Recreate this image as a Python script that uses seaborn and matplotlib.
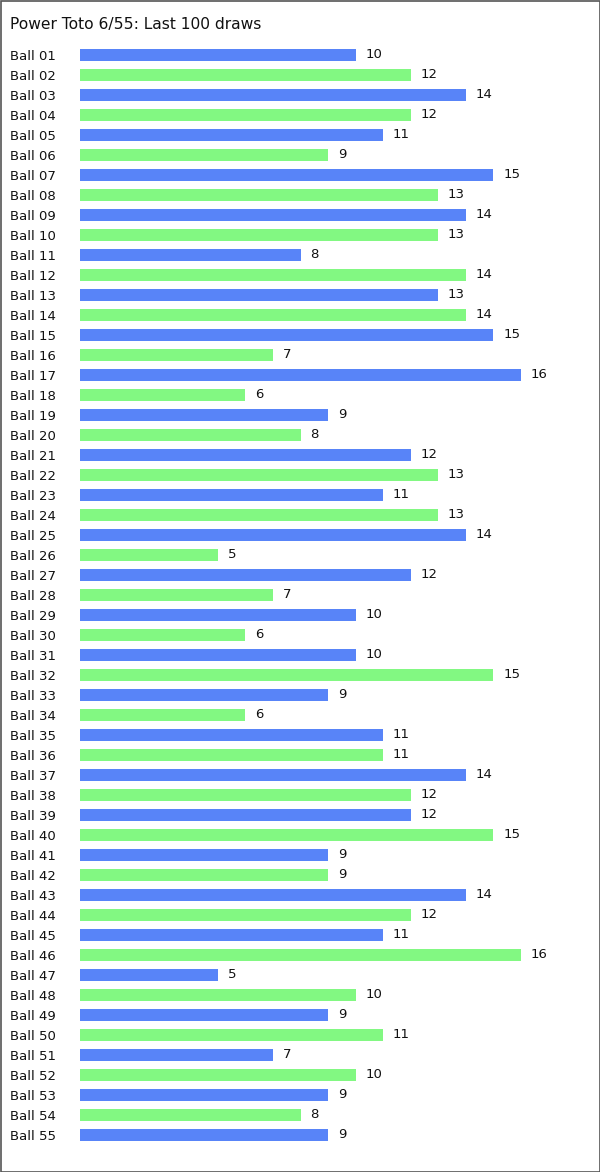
import matplotlib
matplotlib.use("Agg")
import matplotlib.pyplot as plt
import seaborn as sns
import pandas as pd
from matplotlib.patches import Rectangle

balls = [f"Ball {i:02d}" for i in range(1, 56)]
counts = [10, 12, 14, 12, 11, 9, 15, 13, 14, 13, 8, 14, 13, 14, 15, 7, 16, 6, 9, 8,
          12, 13, 11, 13, 14, 5, 12, 7, 10, 6, 10, 15, 9, 6, 11, 11, 14, 12, 12, 15,
          9, 9, 14, 12, 11, 16, 5, 10, 9, 11, 7, 10, 9, 8, 9]
groups = ["odd" if i % 2 == 1 else "even" for i in range(1, 56)]
palette = {"odd": "#5884f8", "even": "#82f882"}

df = pd.DataFrame({"ball": balls, "count": counts, "group": groups})

sns.set_theme(style="white")
plt.rcParams['font.family'] = ['DejaVu Sans']

W, H = 600, 1172
fig = plt.figure(figsize=(W / 100, H / 100), dpi=100)
ax_left, ax_right = 80, 580
ax_top, ax_bottom = 45, 1145
ax = fig.add_axes([ax_left / W, 1 - ax_bottom / H, (ax_right - ax_left) / W, (ax_bottom - ax_top) / H])

sns.barplot(data=df, y="ball", x="count", hue="group", palette=palette, dodge=False,
            orient="h", width=0.56, legend=False, ax=ax, saturation=1, linewidth=0)

px_per_unit = 441 / 16
ax.set_xlim(0, (ax_right - ax_left) / px_per_unit)
ax.set_ylim(54.5, -0.5)
for c in ax.containers:
    ax.bar_label(c, padding=7, fontsize=9.5, color="#111111")

for s in ax.spines.values():
    s.set_visible(False)
ax.set_xticks([])
ax.set_xlabel("")
ax.set_ylabel("")
ax.tick_params(axis="y", length=0, pad=70 * 0.72, labelsize=9.5, labelcolor="#111111")
for t in ax.get_yticklabels():
    t.set_ha("left")

fig.text(10 / W, 1 - 24 / H, "Power Toto 6/55: Last 100 draws", fontsize=11.2,
         ha="left", va="center", color="#111111")
fig.add_artist(Rectangle((0.5 / W, 0.5 / H), 1 - 1 / W, 1 - 1 / H, transform=fig.transFigure,
                         fill=False, edgecolor="#555555", linewidth=1.2))

fig.savefig("out.png", dpi=100)
